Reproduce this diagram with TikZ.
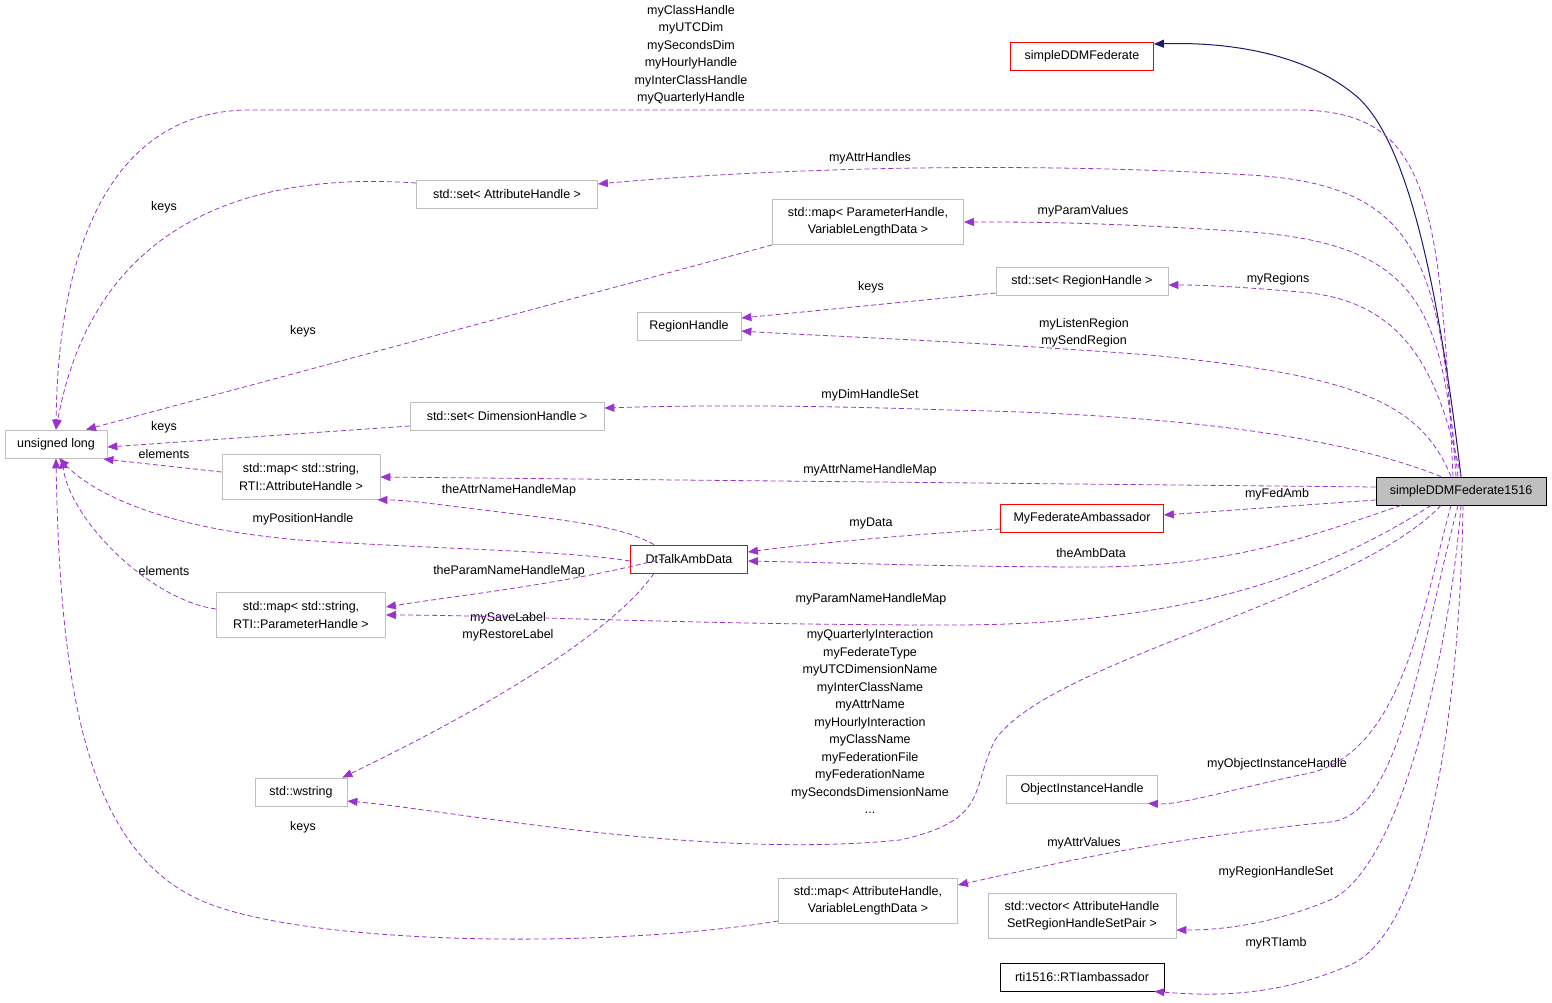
\documentclass[tikz,border=0pt]{standalone}
\usepackage{fontspec}
\setmainfont{Liberation Sans}
\usetikzlibrary{arrows.meta}
\definecolor{pur}{HTML}{9A32CD}
\definecolor{nav}{HTML}{191970}
\definecolor{gb}{HTML}{BFBFBF}
\begin{document}
\begin{tikzpicture}[x=1pt,y=-1pt,
  font=\fontsize{12.5}{17.5}\selectfont,
  box/.style={draw=gb,fill=white,inner sep=2pt,minimum height=28pt,align=center,line width=0.8pt},
  box2/.style={box,minimum height=45pt},
  red/.style={draw=red},
  blk/.style={draw=black},
  mem/.style={pur,dashed,dash pattern=on 5pt off 3pt,line width=0.8pt,-{Triangle[length=10pt,width=8pt]}},
  inh/.style={nav,line width=1pt,-{Triangle[length=10pt,width=8pt]}},
  lab/.style={align=center,inner sep=0pt}]
\useasboundingbox (0,0) rectangle (1552,1002);
\node[box,red,minimum width=143pt] (fed) at (1082,56) {simpleDDMFederate};
\node[box,blk,fill=gb,minimum width=170pt] (S) at (1461,491) {simpleDDMFederate1516};
\node[box,minimum width=102pt] (U) at (56,444) {unsigned long};
\node[box,minimum width=181pt] (A1) at (507,194) {std::set< AttributeHandle >};
\node[box2,minimum width=191pt] (M1) at (868,222) {std::map< ParameterHandle,\\VariableLengthData >};
\node[box,minimum width=172pt] (SR) at (1082,281) {std::set< RegionHandle >};
\node[box,minimum width=104pt] (RH) at (689,326) {RegionHandle};
\node[box,minimum width=194pt] (SD) at (507,416) {std::set< DimensionHandle >};
\node[box2,minimum width=158pt] (MA) at (301,477) {std::map< std::string,\\RTI::AttributeHandle >};
\node[box,red,minimum width=163pt] (MFA) at (1082,518) {MyFederateAmbassador};
\node[box,red,minimum width=117pt] (DT) at (689,559) {DtTalkAmbData};
\node[box2,minimum width=169pt] (MP) at (301,615) {std::map< std::string,\\RTI::ParameterHandle >};
\node[box,minimum width=92pt] (W) at (301,792) {std::wstring};
\node[box,minimum width=151pt] (OIH) at (1082,789) {ObjectInstanceHandle};
\node[box2,minimum width=179pt] (MAV) at (868,901) {std::map< AttributeHandle,\\VariableLengthData >};
\node[box2,minimum width=188pt] (V) at (1082,916) {std::vector< AttributeHandle\\SetRegionHandleSetPair >};
\node[box,blk,minimum width=164pt] (RTI) at (1082,977) {rti1516::RTIambassador};

% labels
\node[lab] (l1) at (691,55) {myClassHandle\\myUTCDim\\mySecondsDim\\myHourlyHandle\\myInterClassHandle\\myQuarterlyHandle};
\node[lab] (l2) at (870,158) {myAttrHandles};
\node[lab] (l3) at (1083,211) {myParamValues};
\node[lab] (l4) at (1278,279) {myRegions};
\node[lab] (l5) at (1084,333) {myListenRegion\\mySendRegion};
\node[lab] (l6) at (870,395) {myDimHandleSet};
\node[lab] (l7) at (870,470) {myAttrNameHandleMap};
\node[lab] (l8) at (1277,494) {myFedAmb};
\node[lab] (l9) at (1091,553) {theAmbData};
\node[lab] (l10) at (871,599) {myParamNameHandleMap};
\node[lab] (l11) at (870,721.5) {myQuarterlyInteraction\\myFederateType\\myUTCDimensionName\\myInterClassName\\myAttrName\\myHourlyInteraction\\myClassName\\myFederationFile\\myFederationName\\mySecondsDimensionName\\...};
\node[lab] (l12) at (1277,764) {myObjectInstanceHandle};
\node[lab] (l13) at (1084,843) {myAttrValues};
\node[lab] (l14) at (1276,872) {myRegionHandleSet};
\node[lab] (l15) at (1276,943) {myRTIamb};
\node[lab] (l16) at (509,490) {theAttrNameHandleMap};
\node[lab] (l17) at (303,519) {myPositionHandle};
\node[lab] (l18) at (509,571) {theParamNameHandleMap};
\node[lab] (l19) at (508,627) {mySaveLabel\\myRestoreLabel};
\node[lab] (l20) at (871,523) {myData};
\node[lab] (l21) at (164,207) {keys};
\node[lab] (l22) at (303,331) {keys};
\node[lab] (l23) at (871,287) {keys};
\node[lab] (l24) at (164,427) {keys};
\node[lab] (l25) at (164,454) {elements};
\node[lab] (l26) at (164,571) {elements};
\node[lab] (l27) at (303,827) {keys};

% inheritance
\draw[inh] (S.north) .. controls (1440,300) and (1410,140) .. (1355,95) .. controls (1300,50) and (1220,42) .. ([yshift=12pt]fed.east);

% members from S
\draw[mem] ([xshift=-8pt]S.north) .. controls (1440,200) and (1430,112) .. (1300,110) -- (250,110) .. controls (110,110) and (58,250) .. (U.north);
\draw[mem] ([xshift=-5pt]S.north) .. controls (1440,260) and (1420,185) .. (1250,175) .. controls (1000,160) and (750,170) .. ([yshift=10pt]A1.east);
\draw[mem] ([xshift=-3pt]S.north) .. controls (1440,320) and (1430,245) .. (1250,232) .. controls (1100,222) and (1030,222) .. (M1.east);
\draw[mem] (S.north) .. controls (1440,380) and (1410,300) .. (1300,292) .. controls (1230,286) and (1200,285) .. ([yshift=-4pt]SR.east);
\draw[mem] ([xshift=-10pt]S.north) .. controls (1420,400) and (1350,375) .. (1150,355) .. controls (950,340) and (800,335) .. ([yshift=-5pt]RH.east);
\draw[mem] ([xshift=-20pt]S.north) .. controls (1350,440) and (1200,415) .. (950,410) .. controls (800,405) and (700,405) .. ([yshift=8pt]SD.east);
\draw[mem] ([yshift=4pt]S.west) -- (MA.east);
\draw[mem] ([yshift=-9pt]S.west) -- ([yshift=3pt]MFA.east);
\draw[mem] ([xshift=-60pt]S.south) .. controls (1300,540) and (1230,565) .. (1100,567) .. controls (950,567) and (850,563) .. ([yshift=-2pt]DT.east);
\draw[mem] ([xshift=-30pt]S.south) .. controls (1300,590) and (1150,625) .. (950,625) .. controls (700,625) and (500,615) .. (MP.east);
\draw[mem] ([xshift=-20pt]S.south) .. controls (1350,600) and (1050,660) .. (995,740) .. controls (970,790) and (990,820) .. (900,840) .. controls (700,860) and (450,810) .. ([yshift=-9pt]W.east);
\draw[mem] ([xshift=-10pt]S.south) .. controls (1420,620) and (1400,760) .. (1300,775) .. controls (1230,790) and (1180,805) .. ([xshift=-10pt]OIH.south east);
\draw[mem] ([xshift=-3pt]S.south) .. controls (1420,650) and (1400,815) .. (1330,822) .. controls (1150,840) and (1050,865) .. ([yshift=16pt]MAV.east);
\draw[mem] (S.south) .. controls (1450,650) and (1400,870) .. (1330,900) .. controls (1270,925) and (1220,930) .. ([yshift=-14pt]V.east);
\draw[mem] ([xshift=2pt]S.south) .. controls (1460,700) and (1430,930) .. (1350,965) .. controls (1270,1000) and (1200,995) .. ([xshift=-10pt]RTI.south east);

% from DT
\draw[mem] ([xshift=-35pt]DT.north) .. controls (620,525) and (560,520) .. (500,512) .. controls (440,505) and (410,500) .. ([xshift=-3pt]MA.south east);
\draw[mem] ([yshift=-2pt]DT.west) .. controls (560,550) and (450,550) .. (300,540) .. controls (180,530) and (100,500) .. ([xshift=3pt]U.south);
\draw[mem] ([xshift=-25pt,yshift=-14pt]DT.north) .. controls (560,585) and (460,595) .. ([yshift=8pt]MP.east);
\draw[mem] ([xshift=-35pt]DT.south) .. controls (600,650) and (420,740) .. ([xshift=-5pt]W.north east);
\draw[mem] ([yshift=-11pt]MFA.west) .. controls (900,535) and (800,545) .. ([yshift=7pt]DT.east);

% other
\draw[mem] ([yshift=11pt]A1.west) .. controls (300,175) and (100,190) .. (U.north);
\draw[mem] (M1.south west) -- ([xshift=30pt]U.north);
\draw[mem] ([yshift=-12pt]SR.west) -- ([yshift=8pt]RH.east);
\draw[mem] ([yshift=-10pt]SD.west) -- ([yshift=-3pt]U.east);
\draw[mem] ([yshift=5pt]MA.west) -- ([yshift=-15pt,xshift=-4pt]U.east);
\draw[mem] ([yshift=6pt]MP.west) .. controls (150,600) and (70,520) .. ([xshift=6pt]U.south);
\draw[mem] ([yshift=-20pt]MAV.west) .. controls (600,950) and (300,945) .. (200,900) .. controls (90,850) and (60,700) .. (U.south);
\end{tikzpicture}
\end{document}
